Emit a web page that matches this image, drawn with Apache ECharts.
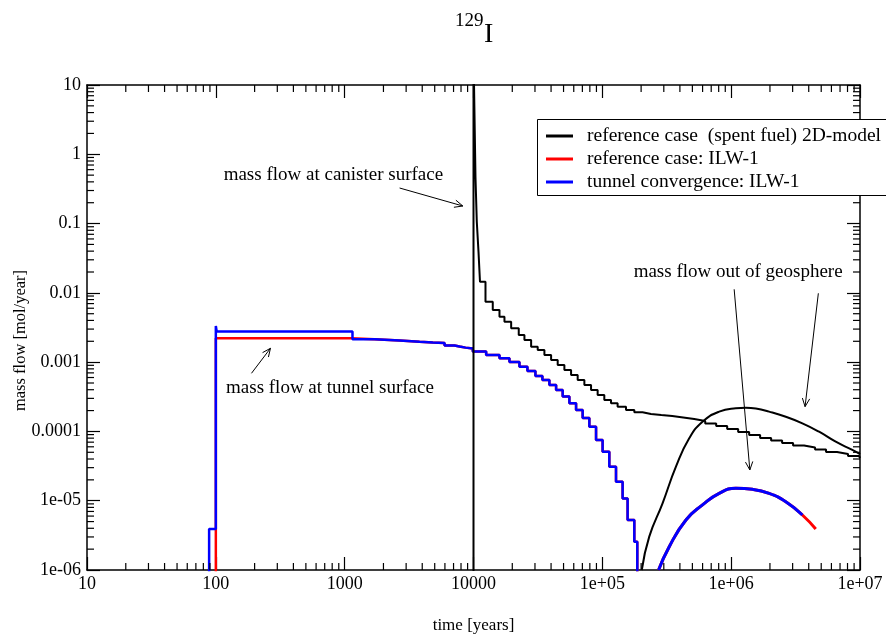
<!DOCTYPE html>
<html><head><meta charset="utf-8">
<script src="https://cdn.jsdelivr.net/npm/echarts@6/dist/echarts.min.js"></script>
<style>html,body{margin:0;padding:0;background:#fff}#c{width:886px;height:634px}</style>
</head><body><div id="c"></div>
<script>
const FONT = '"Liberation Serif", "Times New Roman", serif';

// ---- tick labels ----
const xTickValues = [10, 100, 1000, 10000, 1e5, 1e6, 1e7];
const xTickLabels = ['10', '100', '1000', '10000', '1e+05', '1e+06', '1e+07'];
const yTickValues = [1e-6, 1e-5, 1e-4, 1e-3, 0.01, 0.1, 1, 10];
const yTickLabels = ['1e-06', '1e-05', '0.0001', '0.001', '0.01', '0.1', '1', '10'];

// ---- series names ----
const nameBlack = 'reference case  (spent fuel) 2D-model';
const nameRed = 'reference case: ILW-1';
const nameBlue = 'tunnel convergence: ILW-1';

// ---- reference case (spent fuel): mass flow at canister surface (stepped) ----
const canisterX = [10000, 10000, 10360, 10607, 10934, 11230, 12390, 14110, 15910, 17390, 19600, 22450, 24850, 28010, 31510, 35510, 40030, 45030, 50750, 57200, 64360, 72530, 81740, 91960, 103600, 116800, 131400, 152700, 177100, 205300, 238500,
  286700, 348800, 424600, 516800, 628800, 765100, 931100, 1133000, 1379000, 1678000, 2042000, 2485000, 3024000, 3680000, 4479000, 5450000, 6632000, 8072000, 9823000, 10000000];
const canisterY = [1e-7, 30, 0.47, 0.106, 0.0393, 0.0145, 0.00746, 0.00566, 0.00453, 0.00384, 0.00308, 0.00247, 0.00209, 0.00167, 0.0015, 0.00127, 0.00107, 0.00091, 0.00077, 0.000653, 0.000553, 0.000469, 0.000397, 0.000336, 0.000284, 0.000255, 0.000228, 0.000204, 0.000189, 0.000179, 0.000173,
  1.67e-4, 1.59e-4, 1.512e-4, 1.415e-4, 1.302e-4, 1.199e-4, 1.085e-4, 9.82e-5, 8.89e-5, 8.04e-5, 7.40e-5, 6.81e-5, 6.27e-5, 5.87e-5, 5.49e-5, 5.05e-5, 4.73e-5, 4.42e-5, 4.14e-5, 4.1e-5];

// ---- reference case (spent fuel): mass flow out of geosphere ----
const geoBlackX = [202400, 231300, 293400, 372700, 472500, 599100, 807000, 1087000, 1300000, 1554000, 1970000, 2655000, 3571000, 4811000, 6479000, 8716000, 10000000];
const geoBlackY = [1e-6, 3.03e-6, 9.18e-6, 3.1e-5, 7.96e-5, 1.38e-4, 1.93e-4, 2.16e-4, 2.2e-4, 2.14e-4, 1.93e-4, 1.63e-4, 1.31e-4, 9.9e-5, 7.1e-5, 5.4e-5, 4.7e-5];

// ---- ILW: mass flow at tunnel surface (shared part, stepped) ----
const tunnelX = [1708, 2669, 3814, 4836, 5962, 7122, 7790, 8670, 9877, 12540, 15910, 19010, 22730, 26220, 30240, 34260, 38820, 43770, 49230, 55490, 62540, 70360, 79300, 89380, 100500, 113300, 127700, 143700, 157100, 177100, 186800];
const tunnelY = [0.00205, 0.00197, 0.00192, 0.00189, 0.00174, 0.00168, 0.00162, 0.001575, 0.00142, 0.00127, 0.00114, 0.001005, 0.00086, 0.000745, 0.000631, 0.000553, 0.000468, 0.000397, 0.000318, 0.000255, 0.000204, 0.000156, 0.000117, 7.54e-5, 5.1e-5, 3.1e-5, 1.88e-5, 1.08e-5, 5.27e-6, 2.56e-6, 5e-7];
// early part, reference case ILW-1
const redStartX = [100, 100, 1130];
const redStartY = [5e-7, 0.00221, 0.00214];
// early part, tunnel convergence ILW-1
const blueStartX = [88.7, 88.7, 100, 101.5, 1150];
const blueStartY = [5e-7, 3.9e-6, 0.00333, 0.00278, 0.00214];

// ---- ILW: mass flow out of geosphere ----
const geoRedX = [273200, 330600, 445600, 599100, 807000, 1087000, 1463000, 1970000, 2655000, 3571000, 4535000];
const geoRedY = [1e-6, 2.17e-6, 5.27e-6, 8.69e-6, 1.28e-5, 1.51e-5, 1.46e-5, 1.28e-5, 9.68e-6, 6.22e-6, 3.91e-6];
const geoBlueX = [273200, 330600, 445600, 599100, 807000, 1087000, 1463000, 1970000, 2655000, 3571000];
const geoBlueY = [1e-6, 2.17e-6, 5.27e-6, 8.69e-6, 1.28e-5, 1.51e-5, 1.46e-5, 1.28e-5, 9.68e-6, 6.22e-6];

// ---- annotations (data coordinates) ----
const annoTexts = [
  {text: 'mass flow at canister surface', x: 115, y: 0.5026},
  {text: 'mass flow at tunnel surface', x: 120, y: 4.24e-4},
  {text: 'mass flow out of geosphere', x: 175000, y: 0.0202}
];
const annoArrows = [
  {from: [2669, 0.326], to: [8260, 0.1794]},
  {from: [189.1, 6.9e-4], to: [265.5, 1.585e-3]},
  {from: [1055000, 0.01126], to: [1396000, 2.78e-5]},
  {from: [4750000, 0.00986], to: [3747000, 2.28e-4]}
];

function zip(xs, ys) { return xs.map((x, i) => [x, ys[i]]); }
function labelFor(vals, labels) {
  return function (v) {
    const i = vals.findIndex(t => Math.abs(Math.log10(t) - Math.log10(v)) < 1e-6);
    return i >= 0 ? labels[i] : '';
  };
}
// minor tick values (2..9 x 10^k) - axis decoration only
const xMinor = [], yMinor = [];
for (let k = 1; k <= 6; k++) for (let m = 2; m <= 9; m++) xMinor.push([m * Math.pow(10, k), 1]);
for (let k = -6; k <= 0; k++) for (let m = 2; m <= 9; m++) yMinor.push([100, m * Math.pow(10, k)]);

const chart = echarts.init(document.getElementById('c'), null, {renderer: 'canvas'});

const axisCommon = {
  type: 'log', logBase: 10,
  axisLine: {show: true, lineStyle: {color: '#000', width: 1.5}},
  axisTick: {show: true, inside: true, length: 13, lineStyle: {color: '#000', width: 1.2}},
  splitLine: {show: false},
  minorTick: {show: false},
  minorSplitLine: {show: false}
};

function stepLine(name, data, color, width, z) {
  return {type: 'line', name, data, step: 'end', symbol: 'none', showSymbol: false,
    lineStyle: {color, width}, itemStyle: {color}, z, animation: false, clip: true};
}
function smoothLine(name, data, color, width, z) {
  return {type: 'line', name, data, smooth: 0.5, symbol: 'none', showSymbol: false,
    lineStyle: {color, width}, itemStyle: {color}, z, animation: false, clip: true};
}

const option = {
  animation: false,
  backgroundColor: '#fff',
  textStyle: {fontFamily: FONT},
  grid: {left: 87, right: 26, top: 85, bottom: 64, containLabel: false, outerBoundsMode: 'none'},
  legend: {
    orient: 'vertical', left: 537, top: 119, z: 20,
    data: [nameBlack, nameRed, nameBlue],
    icon: 'rect', itemWidth: 27, itemHeight: 3, itemGap: 3,
    padding: [7, 10, 7, 9],
    borderWidth: 0,
    backgroundColor: 'transparent',
    textStyle: {fontFamily: FONT, fontSize: 19.5, color: '#000', lineHeight: 18, padding: [0, 0, 0, 9]},
    selectedMode: false
  },
  xAxis: [
    Object.assign({}, axisCommon, {
      position: 'bottom', min: 10, max: 1e7,
      name: 'time [years]', nameLocation: 'middle', nameGap: 47, nameMoveOverlap: false,
      nameTextStyle: {fontFamily: FONT, fontSize: 17, color: '#000'},
      axisLabel: {show: true, color: '#000', fontFamily: FONT, fontSize: 18, margin: 5,
        showMinLabel: true, showMaxLabel: true, formatter: labelFor(xTickValues, xTickLabels)}
    }),
    Object.assign({}, axisCommon, {position: 'top', min: 10, max: 1e7, axisLabel: {show: false}})
  ],
  yAxis: [
    Object.assign({}, axisCommon, {
      position: 'left', min: 1e-6, max: 10,
      name: 'mass flow [mol/year]', nameLocation: 'middle', nameGap: 58, nameMoveOverlap: false,
      nameTextStyle: {fontFamily: FONT, fontSize: 16.5, color: '#000', padding: [0, 26, 0, 0]},
      axisLabel: {show: true, color: '#000', fontFamily: FONT, fontSize: 18, margin: 6,
        showMinLabel: true, showMaxLabel: true, formatter: labelFor(yTickValues, yTickLabels)}
    }),
    Object.assign({}, axisCommon, {position: 'right', min: 1e-6, max: 10, axisLabel: {show: false}})
  ],
  series: [
    stepLine(nameRed, zip(redStartX.concat(tunnelX), redStartY.concat(tunnelY)), '#ff0000', 2.5, 3),
    smoothLine(nameRed, zip(geoRedX, geoRedY), '#ff0000', 3, 3),
    stepLine(nameBlue, zip(blueStartX.concat(tunnelX), blueStartY.concat(tunnelY)), '#0000ff', 2.5, 4),
    smoothLine(nameBlue, zip(geoBlueX, geoBlueY), '#0000ff', 3, 4),
    stepLine(nameBlack, zip(canisterX, canisterY), '#000000', 2, 5),
    smoothLine(nameBlack, zip(geoBlackX, geoBlackY), '#000000', 2, 5),
    {
      type: 'custom', name: 'xminor', data: xMinor, silent: true, z: 6, clip: false,
      renderItem: function (params, api) {
        const cs = params.coordSys;
        const p = api.coord([api.value(0), api.value(1)]);
        const yb = cs.y + cs.height, yt = cs.y;
        return {type: 'group', children: [
          {type: 'line', shape: {x1: p[0], y1: yb, x2: p[0], y2: yb - 7}, style: {stroke: '#000', lineWidth: 1.2}},
          {type: 'line', shape: {x1: p[0], y1: yt, x2: p[0], y2: yt + 7}, style: {stroke: '#000', lineWidth: 1.2}}
        ]};
      }
    },
    {
      type: 'custom', name: 'yminor', data: yMinor, silent: true, z: 6, clip: false,
      renderItem: function (params, api) {
        const cs = params.coordSys;
        const p = api.coord([api.value(0), api.value(1)]);
        const xl = cs.x, xr = cs.x + cs.width;
        return {type: 'group', children: [
          {type: 'line', shape: {x1: xl, y1: p[1], x2: xl + 7, y2: p[1]}, style: {stroke: '#000', lineWidth: 1.2}},
          {type: 'line', shape: {x1: xr, y1: p[1], x2: xr - 7, y2: p[1]}, style: {stroke: '#000', lineWidth: 1.2}}
        ]};
      }
    }
  ]
};
chart.setOption(option);

// title, legend frame & annotations
const g = [];
g.push({type: 'rect', shape: {x: 537.5, y: 119.5, width: 380, height: 76}, style: {fill: '#fff', stroke: '#000', lineWidth: 1}, z: 15});
g.push({type: 'text', left: 455, top: 12, style: {text: '129', font: '19px ' + FONT, fill: '#000'}, z: 10});
g.push({type: 'text', left: 484, top: 21, style: {text: 'I', font: '28px ' + FONT, fill: '#000'}, z: 10});
annoTexts.forEach(a => {
  const p = chart.convertToPixel({xAxisIndex: 0, yAxisIndex: 0}, [a.x, a.y]);
  g.push({type: 'text', x: p[0], y: p[1], style: {text: a.text, font: '19px ' + FONT, fill: '#000', verticalAlign: 'middle', align: 'left'}, z: 10});
});
annoArrows.forEach(a => {
  const p0 = chart.convertToPixel({xAxisIndex: 0, yAxisIndex: 0}, a.from);
  const p1 = chart.convertToPixel({xAxisIndex: 0, yAxisIndex: 0}, a.to);
  const ang = Math.atan2(p1[1] - p0[1], p1[0] - p0[0]);
  const L = 9, w = 0.42;
  const h1 = [p1[0] - L * Math.cos(ang - w), p1[1] - L * Math.sin(ang - w)];
  const h2 = [p1[0] - L * Math.cos(ang + w), p1[1] - L * Math.sin(ang + w)];
  g.push({type: 'line', shape: {x1: p0[0], y1: p0[1], x2: p1[0], y2: p1[1]}, style: {stroke: '#000', lineWidth: 1}, z: 10});
  g.push({type: 'polyline', shape: {points: [h1, p1, h2]}, style: {stroke: '#000', lineWidth: 1, fill: null}, z: 10});
});
chart.setOption({graphic: g});
</script>
</body></html>
